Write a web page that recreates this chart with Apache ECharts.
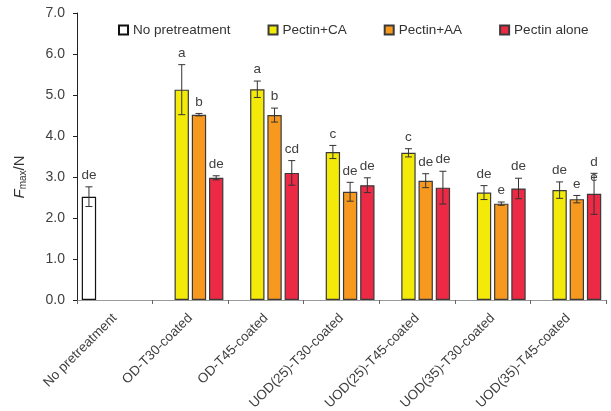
<!DOCTYPE html>
<html><head><meta charset="utf-8">
<script src="https://cdn.jsdelivr.net/npm/echarts@6/dist/echarts.min.js"></script>
<style>html,body{margin:0;padding:0;background:#fff}#c{width:611px;height:411px}</style>
</head><body><div id="c"></div>
<script>
const categories = ['No pretreatment','OD-T30-coated','OD-T45-coated','UOD(25)-T30-coated','UOD(25)-T45-coated','UOD(35)-T30-coated','UOD(35)-T45-coated'];
const seriesNames = ['No pretreatment','Pectin+CA','Pectin+AA','Pectin alone'];
const noPre      = [2.52, null, null, null, null, null, null];
const noPreErr   = [0.24, null, null, null, null, null, null];
const noPreLet   = ['de', null, null, null, null, null, null];
const pecCA      = [null, 5.13, 5.14, 3.61, 3.59, 2.62, 2.68];
const pecCAErr   = [null, 0.61, 0.20, 0.16, 0.10, 0.17, 0.20];
const pecCALet   = [null, 'a', 'a', 'c', 'c', 'de', 'de'];
const pecAA      = [null, 4.52, 4.51, 2.64, 2.91, 2.35, 2.46];
const pecAAErr   = [null, 0.03, 0.17, 0.23, 0.17, 0.04, 0.09];
const pecAALet   = [null, 'b', 'b', 'de', 'de', 'e', 'e'];
const alone      = [null, 2.98, 3.10, 2.80, 2.74, 2.72, 2.59];
const aloneErr   = [null, 0.05, 0.30, 0.18, 0.40, 0.25, 0.50];
const aloneLet   = [null, 'de', 'cd', 'de', 'de', 'de', 'd\ne'];
const yTicks = ['0.0','1.0','2.0','3.0','4.0','5.0','6.0','7.0'];

const colors = ['#ffffff','#f4ea0a','#f7981f','#ec2a45'];
const vals = [noPre, pecCA, pecAA, alone];
const errs = [noPreErr, pecCAErr, pecAAErr, aloneErr];
const lets = [noPreLet, pecCALet, pecAALet, aloneLet];
const FONT = 'Liberation Sans, Arial, sans-serif';
const BARW = 0.19, GAP = 0.2;

const chart = echarts.init(document.getElementById('c'));
const series = [];
seriesNames.forEach((n, si) => {
  series.push({
    name: n, type: 'bar', data: vals[si],
    barWidth: (BARW*100)+'%', barGap: (GAP*100)+'%',
    itemStyle: {color: colors[si], borderColor: si===0 ? '#111' : '#3a3a3a', borderWidth: 1.2}
  });
});
seriesNames.forEach((n, si) => {
  const data = [];
  vals[si].forEach((v, i) => { if (v != null) data.push([i, v, errs[si][i], lets[si][i]]); });
  series.push({
    type: 'custom', z: 5, silent: true,
    encode: {x: 0, y: 1},
    data: data,
    renderItem: function (params, api) {
      const idx = api.value(0), v = api.value(1), e = api.value(2);
      const letter = data[params.dataIndex][3];
      const band = api.size([1, 0])[0];
      const bw = band * BARW, pitch = bw * (1 + GAP);
      const x = api.coord([idx, 0])[0] + (si - 1.5) * pitch;
      const yt = api.coord([idx, v + e])[1];
      const yb = api.coord([idx, v - e])[1];
      const cap = 3.5;
      const st = {stroke: '#333', lineWidth: 1};
      return {type: 'group', children: [
        {type: 'line', shape: {x1: x, y1: yt, x2: x, y2: yb}, style: st},
        {type: 'line', shape: {x1: x - cap, y1: yt, x2: x + cap, y2: yt}, style: st},
        {type: 'line', shape: {x1: x - cap, y1: yb, x2: x + cap, y2: yb}, style: st},
        {type: 'text', x: x, y: yt - 19, style: {text: letter, fill: '#404040', font: '13.5px ' + FONT, align: 'center', verticalAlign: 'top', lineHeight: 15}}
      ]};
    }
  });
});

chart.setOption({
  animation: false,
  textStyle: {fontFamily: FONT},
  grid: {left: 77, right: 5, top: 13, bottom: 111, containLabel: false, outerBoundsMode: 'none'},
  legend: {
    data: seriesNames, top: 18, left: 113, itemWidth: 9, itemHeight: 9, itemGap: 37,
    icon: 'rect',
    textStyle: {fontSize: 13.5, color: '#333', fontFamily: FONT}
  },
  xAxis: {
    type: 'category', data: categories,
    axisLine: {lineStyle: {color: '#9a9a9a', width: 1.2}},
    axisTick: {show: true, length: 4, lineStyle: {color: '#666'}},
    axisLabel: {rotate: 45, fontSize: 13.5, color: '#404040', margin: 16, interval: 0, fontFamily: FONT}
  },
  yAxis: {
    type: 'value', min: 0, max: 7, interval: 1,
    splitLine: {show: false},
    axisLine: {show: true, lineStyle: {color: '#222', width: 1}},
    axisTick: {show: true, length: 4, lineStyle: {color: '#222'}},
    axisLabel: {fontSize: 14, color: '#404040', margin: 12, fontFamily: FONT, formatter: (v, i) => yTicks[i]}
  },
  graphic: [{
    type: 'text', x: 20, y: 177, rotation: Math.PI / 2,
    style: {
      text: '{i|F}{s|max}{n|/N}', align: 'center', verticalAlign: 'middle',
      rich: {
        i: {fontSize: 15, fontStyle: 'italic', fill: '#333', fontFamily: FONT},
        s: {fontSize: 10, fill: '#333', fontFamily: FONT, verticalAlign: 'bottom', padding: [7, 0, 0, 0]},
        n: {fontSize: 15, fill: '#333', fontFamily: FONT}
      }
    }
  }],
  series: series
});
</script></body></html>
